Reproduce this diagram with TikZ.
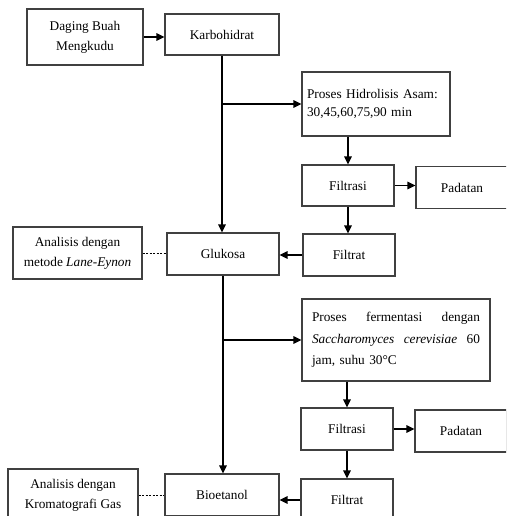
\documentclass[tikz,border=0pt]{standalone}
\usepackage{fontspec}
\setmainfont{Liberation Serif}
\usetikzlibrary{arrows.meta, positioning, calc}

\begin{document}
\begin{tikzpicture}[
    x=1pt, y=-1pt,
    >={Triangle[length=8pt, width=7.5pt]},
    arr/.style={->, line width=1.5pt},
    dsh/.style={line width=0.6pt, dash pattern=on 2pt off 1.5pt},
    box/.style={draw=black!75, line width=1.1pt, fill=white, inner sep=0pt, align=center,
        font=\fontsize{13.3}{20}\selectfont, minimum height=42pt},
    small/.style={box, minimum width=92pt},
]
\clip (0,0) rectangle (506,516);
% === Top: raw material ===
\node[box, minimum width=116pt, minimum height=56pt] (daging) at (85,37) {Daging Buah\\Mengkudu};
\node[box, minimum width=114pt, minimum height=41pt] (karbo) at (222,34.5) {Karbohidrat};
\draw[arr] (daging.east) -- (daging.east -| karbo.west);
%
% === Hydrolysis branch ===
\node[box, minimum height=64pt, text width=138pt, inner xsep=5pt, align=left,
    font=\fontsize{13.3}{18}\selectfont] (hidro) at (376,104) {Proses Hidrolisis Asam:\\30,45,60,75,90 min};
\node[small, minimum height=41pt] (filtrasiA) at (348,185.5) {Filtrasi};
\node[small] (padatanA) at (462,187.5) {Padatan};
\node[small] (filtratA) at (349,255) {Filtrat};
\node[box, minimum width=112pt] (glukosa) at (223,254) {Glukosa};
\node[box, minimum width=129pt, minimum height=52pt] (analisisA) at (77.5,253)
    {Analisis dengan\\metode \textit{Lane-Eynon}};
%
\coordinate (brA) at (karbo.south |- hidro.west);
\draw[arr] (karbo.south) -- (karbo.south |- glukosa.north);
\draw[arr] (brA) -- (hidro.west);
\draw[arr] (hidro.south -| filtrasiA.north) -- (filtrasiA.north);
\draw[arr] (filtrasiA.east) -- (filtrasiA.east -| padatanA.west);
\draw[arr] (filtrasiA.south) -- (filtrasiA.south |- filtratA.north);
\draw[arr] (filtratA.west) -- (filtratA.west -| glukosa.east);
\draw[dsh] (analisisA.east) -- (analisisA.east -| glukosa.west);
%
% === Fermentation branch ===
\node[box, minimum height=82pt, text width=168pt, inner xsep=10pt, align=left,
    font=\fontsize{13.3}{21.5}\selectfont] (fermen) at (396,340)
    {\leavevmode\hbox to 168pt{Proses\hfill fermentasi\hfill dengan}\\
     \leavevmode\hbox to 168pt{\textit{Saccharomyces}\hfill\textit{cerevisiae}\hfill 60}\\
     jam, suhu 30°C};
\node[small] (filtrasiB) at (347,429) {Filtrasi};
\node[small] (padatanB) at (461,431) {Padatan};
\node[small] (filtratB) at (347,500) {Filtrat};
\node[box, minimum width=114pt] (bioetanol) at (222,495) {Bioetanol};
\node[box, minimum width=130pt, minimum height=52pt] (analisisB) at (73,495)
    {Analisis dengan\\Kromatografi Gas};
%
\coordinate (brB) at (glukosa.south |- fermen.west);
\draw[arr] (glukosa.south) -- (glukosa.south |- bioetanol.north);
\draw[arr] (brB) -- (fermen.west);
\draw[arr] (fermen.south -| filtrasiB.north) -- (filtrasiB.north);
\draw[arr] (filtrasiB.east) -- (filtrasiB.east -| padatanB.west);
\draw[arr] (filtrasiB.south) -- (filtrasiB.south |- filtratB.north);
\draw[arr] (filtratB.west) -- (filtratB.west -| bioetanol.east);
\draw[dsh] (analisisB.east) -- (analisisB.east -| bioetanol.west);
\end{tikzpicture}
\end{document}
